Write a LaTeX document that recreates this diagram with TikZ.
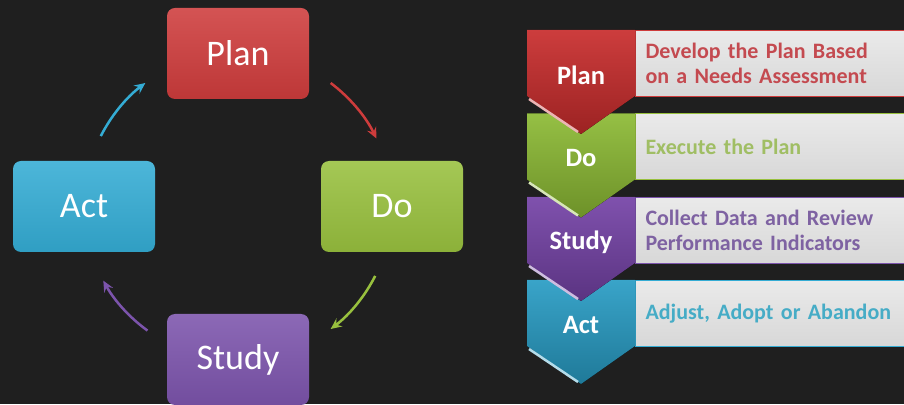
\documentclass[tikz,border=0pt]{standalone}
\usepackage{fontspec}
\setmainfont{Carlito}
\usetikzlibrary{positioning,calc,arrows.meta}
\tikzset{>={Stealth[length=11pt,width=10pt,inset=4pt]}}
\definecolor{bg}{RGB}{31,31,31}
\definecolor{plan}{RGB}{206,60,60}
\definecolor{do}{RGB}{152,192,62}
\definecolor{study}{RGB}{124,84,172}
\definecolor{act}{RGB}{52,172,212}
\definecolor{planchev}{RGB}{200,44,44}
\definecolor{dochev}{RGB}{140,186,52}
\definecolor{studychev}{RGB}{116,66,166}
\definecolor{actchev}{RGB}{40,156,196}
\definecolor{plantext}{RGB}{196,74,80}
\definecolor{dotext}{RGB}{160,190,100}
\definecolor{studytext}{RGB}{126,98,162}
\definecolor{acttext}{RGB}{70,172,198}
\definecolor{panel}{RGB}{234,234,234}
\tikzset{
  stage/.style={rounded corners=8pt,minimum width=142pt,minimum height=91pt,inner sep=0pt,
    text=white,font=\fontsize{36}{36}\selectfont,top color=#1!88!white,bottom color=#1!92!black},
  loop arrow/.style={->,line width=2.5pt,draw=#1},
  chevlabel/.style={text=white,font=\bfseries\fontsize{26.5}{26.5}\selectfont},
  panelbox/.style={draw=#1,line width=1pt,top color=panel!100,bottom color=panel!92!black,
    anchor=north west,minimum width=290pt,minimum height=66pt,inner xsep=10pt,
    text width=270pt,align=left,font=\bfseries\fontsize{22}{25}\selectfont},
}

\begin{document}
\begin{tikzpicture}[x=1pt,y=1pt]
\useasboundingbox (0,0) rectangle (904,404);
\clip (0,0) rectangle (904,404);
\fill[bg] (0,0) rectangle (904,404);

\node[stage=plan] (plan) at (238,350.5) {Plan};
\node[stage=do] (do) at (392,197.5) {Do};
\node[stage=study] (study) at (238,44.5) {Study};
\node[stage=act] (act) at (84,197.5) {Act};

\coordinate (hub) at (238,198);
\draw[loop arrow=plan] ([shift={(53:154)}]hub) arc[start angle=53,end angle=26,radius=154];
\draw[loop arrow=do] ([shift={(-27:154)}]hub) arc[start angle=-27,end angle=-53,radius=154];
\draw[loop arrow=study] ([shift={(-126:154)}]hub) arc[start angle=-126,end angle=-151,radius=154];
\draw[loop arrow=act] ([shift={(153:154)}]hub) arc[start angle=153,end angle=127,radius=154];

\foreach \t/\c/\lab/\txt in {124/act/Act/{Adjust, Adopt or Abandon},
    207/study/Study/{Collect Data and Review\\Performance Indicators},
    290.5/do/Do/{Execute the Plan},
    374/plan/Plan/{Develop the Plan Based\\on a Needs Assessment}}{
  \node[panelbox=\c,text=\c text] (note-\c) at (635,\t) {\txt};
  \fill[top color=\c chev!92!white,bottom color=\c chev!78!black]
    (527,\t) -- (635,\t) -- (635,\t-66) -- (581,\t-104) -- (527,\t-66) -- cycle;
  \draw[line width=2.5pt,\c chev!35!white] (529,\t-69) -- (578,\t-102);
  \node[chevlabel] (chev-\c) at (581,\t-45) {\lab};
}
\end{tikzpicture}
\end{document}
